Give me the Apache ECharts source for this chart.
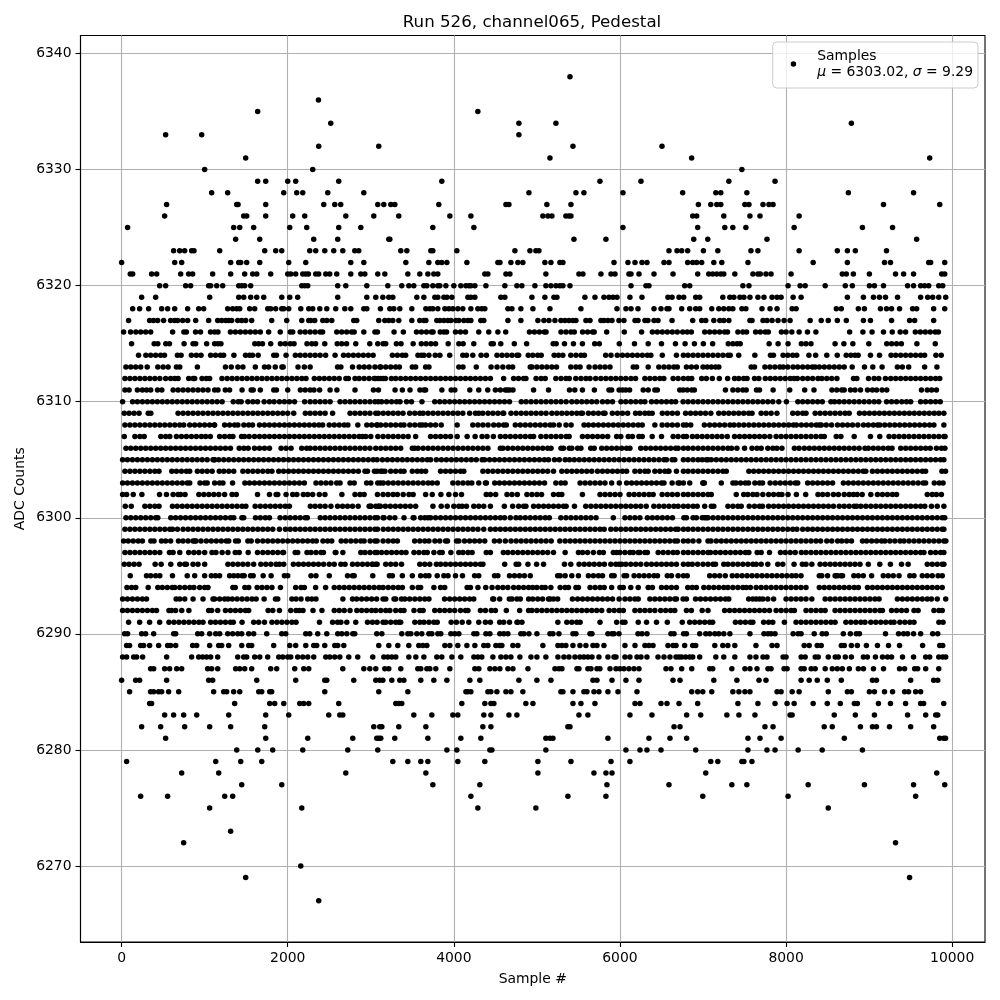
<!DOCTYPE html>
<html>
<head>
<meta charset="utf-8">
<script src="https://cdn.jsdelivr.net/npm/echarts@6/dist/echarts.min.js"></script>
<style>html,body{margin:0;background:#fff}#c{width:1000px;height:1000px}</style>
</head>
<body>
<div id="c"></div>
<script>
const titleText = 'Run 526, channel065, Pedestal';
const xName = 'Sample #';
const yName = 'ADC Counts';
const xTicks = [0, 2000, 4000, 6000, 8000, 10000];
const yTicks = [6270, 6280, 6290, 6300, 6310, 6320, 6330, 6340];
const seriesName = 'Samples';
const muText = '6303.02';
const sigmaText = '9.29';

const y6338 = [5398];
const y6336 = [2370];
const y6335 = [1638, 4289];
const y6334 = [2518, 4783, 5229, 8786];
const y6333 = [530, 964, 4783];
const y6332 = [2373, 3096, 5434, 6506];
const y6331 = [1494, 5157, 6863, 9729];
const y6330 = [1000, 2301, 7468];
const y6329 = [1638, 1735, 2000, 2096, 2614, 3855, 5759, 6253, 7311, 7867];
const y6328 = [1084, 1277, 1952, 2108, 2181, 2482, 2916, 4904, 5470, 5566, 6036, 6755, 7154, 7214, 7528, 8750, 9535];
const y6327 = [542, 1386, 1402, 1735, 2434, 2566, 2638, 3084, 3157, 3241, 3289, 3819, 4627, 4663, 5120, 5410, 6944, 7093, 7166, 7214, 7504, 7553, 7722, 7794, 7843, 9173, 9850];
const y6326 = [518, 1470, 1506, 1735, 2060, 2205, 2699, 3036, 3337, 3952, 4205, 5072, 5133, 5181, 5349, 5386, 5410, 6876, 6924, 7250, 7565, 7686, 8157];
const y6325 = [72, 1349, 1422, 1590, 2024, 2229, 2614, 2880, 3747, 4241, 6036, 6936, 7262, 7359, 7516, 8097, 8919, 9282];
const y6324 = [1373, 1663, 2313, 2602, 3217, 3229, 5446, 5831, 6888, 7057, 7770, 9572];
const y6323 = [626, 699, 759, 843, 871, 1181, 1723, 1855, 1928, 2265, 2337, 2446, 2554, 2663, 2807, 2855, 3361, 3434, 3723, 3747, 4036, 4735, 4916, 4988, 5024, 6590, 6687, 6743, 6815, 7005, 7178, 7577, 7661, 8157, 8617, 8738, 8834, 9209];
const y6322 = [0, 639, 723, 1313, 1410, 1434, 1506, 1663, 2012, 2217, 2759, 2916, 3422, 3699, 3807, 3855, 3916, 4157, 4530, 4555, 4687, 4771, 4831, 5096, 5169, 5277, 5313, 5928, 6096, 6181, 6265, 6325, 6530, 6590, 6815, 6876, 6924, 6984, 7130, 7226, 7541, 8326, 8738, 9185, 9257, 9717, 9740, 9910];
const y6321 = [104, 133, 361, 422, 711, 807, 855, 1096, 1313, 1482, 1578, 1627, 1795, 2000, 2036, 2096, 2181, 2217, 2249, 2337, 2373, 2458, 2506, 2590, 2759, 2880, 2928, 3084, 3169, 3446, 3590, 3687, 3759, 3807, 4373, 4410, 4627, 4675, 5108, 5506, 5554, 5771, 5892, 5940, 6108, 6133, 6229, 6410, 6639, 6936, 7069, 7117, 7166, 7214, 7250, 7383, 7601, 7661, 7690, 7758, 7819, 8060, 8677, 8725, 8810, 9003, 9318, 9415, 9535, 9874, 9910];
const y6320 = [458, 530, 771, 831, 1048, 1072, 1145, 1217, 1410, 1446, 1482, 1554, 2169, 2205, 2241, 2602, 2699, 2952, 3205, 3373, 3458, 3518, 3639, 3675, 3747, 3807, 3831, 3904, 4000, 4084, 4145, 4181, 4205, 4253, 4386, 4614, 4759, 4819, 4976, 5108, 5169, 5229, 5277, 5313, 5398, 6133, 6313, 6349, 6779, 6840, 7480, 7553, 8024, 8169, 8230, 8471, 8713, 8798, 9003, 9064, 9173, 9463, 9535, 9620, 9668, 9717, 9838, 9886];
const y6319 = [241, 410, 1060, 1410, 1470, 1554, 1627, 1711, 1928, 2024, 2120, 2602, 2952, 3060, 3145, 3217, 3265, 3554, 3639, 3771, 3807, 3880, 3916, 3976, 4169, 4205, 4253, 4566, 4614, 4940, 5096, 5205, 5241, 5578, 5699, 5807, 5867, 5916, 5964, 6120, 6265, 6578, 6627, 6711, 6767, 6912, 6960, 7238, 7323, 7371, 7444, 7492, 7565, 7661, 7734, 7831, 7891, 7940, 8085, 8181, 8738, 8931, 9052, 9124, 9197, 9342, 9620, 9705, 9765, 9838, 9922];
const y6318 = [133, 217, 325, 482, 554, 639, 795, 928, 988, 1277, 1337, 1386, 1422, 1542, 1602, 1759, 1795, 1855, 1928, 1952, 2012, 2157, 2253, 2301, 2386, 2470, 2578, 2687, 2759, 2916, 2952, 3116, 3229, 3277, 3349, 3494, 3663, 3711, 3747, 3807, 3892, 3940, 3988, 4048, 4108, 4205, 4289, 4337, 4373, 4651, 4699, 4807, 4952, 5157, 5530, 5964, 6072, 6133, 6217, 6410, 6494, 6566, 6590, 6743, 6840, 6912, 6960, 7105, 7190, 7250, 7311, 7359, 7468, 7516, 7710, 7807, 7891, 8073, 8121, 8605, 8665, 8870, 8943, 9136, 9209, 9270, 9366, 9523, 9572, 9777, 9910];
const y6317 = [84, 337, 385, 434, 506, 590, 639, 675, 735, 795, 892, 1048, 1157, 1205, 1253, 1289, 1325, 1398, 1446, 1494, 1566, 1807, 1988, 2169, 2253, 2277, 2325, 2422, 2470, 2530, 2795, 2831, 3096, 3169, 3217, 3265, 3337, 3494, 3590, 3639, 3663, 3795, 3831, 3880, 3928, 3964, 4024, 4060, 4120, 4169, 4205, 4325, 4361, 4651, 4807, 5012, 5084, 5145, 5217, 5289, 5337, 5386, 5434, 5470, 5590, 5639, 5771, 5807, 5855, 5904, 5988, 6048, 6181, 6217, 6301, 6337, 6410, 6458, 6627, 6876, 6984, 7033, 7130, 7202, 7250, 7311, 7565, 7590, 7722, 7770, 7831, 7903, 7976, 8048, 8290, 8423, 8508, 8617, 8725, 8931, 9016, 9270, 9487, 9548, 9777];

const y6316 = [24, 108, 172, 230, 290, 350, 614, 750, 780, 890, 950, 1070, 1120, 1160, 1310, 1370, 1430, 1490, 1550, 1610, 1670, 1770, 1910, 2030, 2060, 2150, 2210, 2270, 2330, 2390, 2420, 2590, 2650, 2710, 2770, 2800, 2916, 3050, 3080, 3280, 3392, 3550, 3610, 3670, 3730, 3750, 3836, 3880, 3912, 4020, 4080, 4140, 4300, 4420, 4530, 4624, 4910, 4970, 5030, 5090, 5110, 5290, 5350, 5410, 5450, 5550, 5610, 5670, 5690, 5840, 6052, 6260, 6390, 6450, 6510, 6570, 6630, 6690, 6755, 6810, 6860, 7020, 7080, 7140, 7200, 7260, 7295, 7420, 7480, 7524, 7633, 7690, 7750, 7786, 7944, 8000, 8069, 8157, 8258, 8359, 8765, 8925, 9035, 9173, 9278, 9374, 9439, 9556, 9616, 9676, 9736, 9796, 9834];
const y6315 = [120, 392, 436, 532, 576, 752, 860, 892, 1024, 1120, 1160, 1196, 1604, 1650, 1696, 1795, 1912, 1970, 2030, 2076, 2232, 2290, 2336, 2446, 2596, 2650, 2708, 2819, 2988, 3084, 3148, 3180, 3308, 3364, 3510, 3608, 3666, 3724, 3780, 3932, 4060, 4112, 4240, 4450, 4475, 4565, 4728, 4876, 5196, 5232, 5332, 5440, 5548, 5696, 5752, 5992, 6175, 6340, 6500, 6668, 6784, 6896, 7004, 7116, 7304, 7360, 7410, 7448, 7796, 7904, 8024, 8184, 8240, 8300, 8590, 8696, 8804, 8996, 9212, 9270, 9330, 9388, 9575, 9796];
const y6314 = [204, 292, 350, 410, 470, 516, 672, 716, 840, 900, 956, 1072, 1130, 1190, 1228, 1352, 1492, 1540, 1576, 1644, 1832, 1864, 1980, 2092, 2150, 2210, 2270, 2330, 2390, 2456, 2570, 2672, 2730, 2790, 2850, 2910, 2970, 3028, 3260, 3320, 3380, 3420, 3568, 3610, 3640, 3700, 3776, 3832, 3950, 4108, 4152, 4228, 4328, 4392, 4520, 4580, 4640, 4700, 4760, 4780, 4896, 4950, 5010, 5052, 5208, 5260, 5312, 5408, 5470, 5530, 5572, 5828, 5892, 5968, 6030, 6090, 6150, 6210, 6270, 6330, 6372, 6510, 6680, 6764, 6820, 6880, 6940, 7000, 7060, 7120, 7180, 7240, 7300, 7328, 7430, 7624, 7812, 7848, 7964, 8020, 8080, 8128, 8275, 8356, 8490, 8616, 8724, 8780, 8830, 8868, 9016, 9125, 9264, 9320, 9380, 9440, 9500, 9560, 9620, 9668, 9804, 9868];
const y6313 = [52, 110, 170, 230, 308, 436, 500, 560, 660, 700, 912, 1250, 1320, 1400, 1460, 1610, 1720, 1770, 1850, 1930, 1945, 2124, 2200, 2270, 2600, 2640, 2780, 2860, 2920, 2980, 3050, 3110, 3120, 3180, 3240, 3300, 3344, 3500, 3540, 3660, 3700, 4060, 4110, 4270, 4448, 4520, 4590, 4660, 4708, 4920, 4940, 5000, 5060, 5120, 5180, 5236, 5408, 5470, 5520, 5628, 5700, 5760, 5820, 5880, 6160, 6200, 6340, 6468, 6530, 6590, 6650, 6690, 6800, 6860, 6920, 7000, 7050, 7100, 7150, 7190, 7580, 7620, 7745, 7805, 7865, 7925, 7965, 8020, 8084, 8140, 8200, 8260, 8316, 8350, 8400, 8460, 8520, 8580, 8640, 8700, 8796, 8944, 9044, 9156, 9340, 9400, 9476, 9668, 9816];
const y6312 = [40, 100, 160, 220, 280, 340, 400, 460, 530, 590, 640, 680, 808, 860, 880, 968, 1020, 1060, 1208, 1270, 1330, 1390, 1450, 1510, 1570, 1630, 1690, 1750, 1810, 1870, 1930, 1990, 2050, 2110, 2170, 2220, 2320, 2380, 2440, 2500, 2560, 2620, 2700, 2730, 2810, 2860, 2920, 2980, 3040, 3090, 3150, 3060, 3120, 3176, 3248, 3300, 3360, 3420, 3480, 3540, 3600, 3660, 3720, 3780, 3840, 3900, 3960, 4020, 4080, 4140, 4200, 4260, 4320, 4380, 4440, 4600, 4720, 4778, 4840, 4868, 4990, 5050, 5100, 5228, 5290, 5350, 5390, 5468, 5530, 5590, 5640, 5708, 5770, 5830, 5890, 5950, 6010, 6070, 6132, 6188, 6300, 6360, 6420, 6480, 6528, 6640, 6700, 6764, 6820, 6864, 6984, 7040, 7112, 7196, 7296, 7380, 7430, 7490, 7530, 7620, 7672, 7750, 7810, 7870, 7930, 7990, 8050, 8096, 8136, 8200, 8260, 8320, 8384, 8430, 8490, 8550, 8612, 8812, 8852, 8992, 9060, 9116, 9196, 9260, 9320, 9380, 9440, 9500, 9560, 9620, 9680, 9740, 9800, 9850];
const y6311 = [40, 90, 190, 250, 300, 350, 432, 484, 620, 680, 740, 800, 860, 920, 980, 1040, 1120, 1160, 1248, 1300, 1450, 1560, 1584, 1670, 1832, 1864, 2000, 2152, 2210, 2270, 2316, 2384, 2510, 2592, 2810, 3032, 3092, 3292, 3380, 3472, 3592, 3640, 3660, 3856, 3968, 4012, 4192, 4300, 4408, 4500, 4560, 4620, 4644, 4672, 4712, 4960, 5140, 5392, 5456, 5548, 5692, 5868, 5900, 5990, 6030, 6070, 6116, 6280, 6340, 6420, 6450, 6720, 6760, 6810, 6864, 6896, 7270, 7360, 7420, 7480, 7520, 7644, 7680, 7844, 8044, 8224, 8336, 8552, 8610, 8670, 8700, 8776, 8830, 8896, 8980, 9040, 9090, 9156, 9212, 9630, 9700, 9752, 9810];
const y6310 = [12, 132, 190, 250, 310, 370, 430, 490, 550, 610, 670, 730, 790, 850, 910, 970, 1030, 1090, 1150, 1210, 1344, 1404, 1440, 1520, 1580, 1636, 1716, 1780, 1836, 1900, 1960, 2020, 2082, 2204, 2270, 2330, 2390, 2450, 2510, 2630, 2690, 2750, 2810, 2870, 2930, 2990, 3050, 3090, 3130, 3190, 3250, 3310, 3352, 3430, 3490, 3616, 3770, 3830, 3890, 3950, 4010, 4070, 4130, 4190, 4250, 4310, 4370, 4430, 4490, 4550, 4610, 4670, 4812, 4870, 4930, 4990, 5050, 5110, 5170, 5230, 5290, 5352, 5420, 5480, 5540, 5600, 5660, 5720, 5790, 5850, 5910, 6012, 6070, 6130, 6190, 6250, 6300, 6380, 6440, 6500, 6560, 6620, 6670, 6760, 6820, 6880, 6940, 7000, 7060, 7120, 7180, 7240, 7300, 7360, 7420, 7480, 7540, 7600, 7660, 7720, 7780, 7840, 7912, 8004, 8142, 8200, 8260, 8320, 8380, 8436, 8540, 8584, 8640, 8700, 8760, 8820, 8880, 8940, 9000, 9060, 9116, 9210, 9270, 9330, 9392, 9450, 9500, 9620, 9680, 9740, 9800, 9856];
const y6309 = [32, 90, 150, 210, 320, 352, 680, 740, 800, 860, 920, 980, 1040, 1100, 1160, 1220, 1280, 1340, 1400, 1460, 1520, 1580, 1640, 1700, 1760, 1820, 1880, 1940, 2000, 2072, 2212, 2270, 2330, 2390, 2450, 2540, 2750, 2810, 2870, 2930, 2990, 3060, 3090, 3150, 3210, 3270, 3330, 3388, 3468, 3530, 3590, 3630, 3690, 3750, 3810, 3870, 3930, 3990, 4048, 4108, 4190, 4260, 4300, 4348, 4412, 4470, 4530, 4590, 4600, 4688, 4750, 4810, 4870, 4930, 4990, 5050, 5110, 5180, 5240, 5300, 5360, 5420, 5480, 5532, 5548, 5620, 5680, 5740, 5800, 5820, 5908, 5970, 6030, 6092, 6188, 6240, 6300, 6348, 6388, 6510, 6570, 6630, 6692, 6790, 6850, 6910, 6970, 7030, 7094, 7190, 7250, 7310, 7370, 7430, 7490, 7550, 7590, 7700, 7760, 7820, 7890, 8080, 8140, 8200, 8240, 8350, 8410, 8470, 8530, 8590, 8650, 8710, 8760, 8884, 8944, 9004, 9064, 9124, 9184, 9244, 9304, 9364, 9424, 9484, 9544, 9604, 9664, 9724, 9784, 9840, 9900];
const y6308 = [40, 100, 160, 220, 280, 340, 400, 460, 520, 580, 640, 700, 748, 820, 880, 940, 1000, 1060, 1120, 1116, 1240, 1300, 1360, 1400, 1472, 1530, 1576, 1660, 1720, 1780, 1840, 1900, 1960, 2020, 2080, 2140, 2200, 2260, 2320, 2376, 2420, 2500, 2560, 2620, 2680, 2724, 2844, 2952, 3010, 3070, 3080, 3120, 3180, 3240, 3300, 3360, 3400, 3470, 3530, 3590, 3620, 3660, 3720, 3780, 3848, 4040, 4228, 4290, 4350, 4412, 4480, 4540, 4600, 4632, 4740, 4800, 4860, 4920, 4980, 5040, 5100, 5160, 5200, 5268, 5350, 5412, 5568, 5620, 5680, 5740, 5800, 5860, 5920, 5980, 6040, 6100, 6160, 6220, 6268, 6420, 6508, 6570, 6630, 6692, 6764, 6800, 6852, 7016, 7080, 7140, 7200, 7260, 7324, 7372, 7432, 7492, 7552, 7612, 7672, 7732, 7792, 7852, 7912, 7972, 8032, 8088, 8124, 8184, 8244, 8304, 8364, 8400, 8424, 8484, 8548, 8620, 8680, 8740, 8800, 8864, 8932, 8990, 9050, 9100, 9128, 9188, 9248, 9308, 9368, 9428, 9488, 9548, 9608, 9668, 9728, 9780, 9900];
const y6307 = [32, 160, 220, 272, 472, 530, 580, 660, 720, 780, 840, 900, 960, 1012, 1068, 1180, 1240, 1300, 1340, 1444, 1480, 1536, 1600, 1660, 1720, 1780, 1840, 1900, 1960, 2020, 2080, 2140, 2200, 2260, 2320, 2380, 2440, 2500, 2560, 2620, 2680, 2740, 2800, 2860, 2900, 2940, 3000, 3085, 3148, 3210, 3270, 3330, 3390, 3450, 3540, 3720, 3780, 3840, 3900, 3960, 4040, 4160, 4256, 4340, 4400, 4476, 4560, 4620, 4680, 4740, 4800, 4860, 4920, 4960, 5048, 5110, 5170, 5230, 5290, 5352, 5388, 5548, 5610, 5670, 5730, 5790, 5852, 5960, 6010, 6100, 6150, 6228, 6268, 6388, 6500, 6640, 6700, 6764, 6800, 6872, 6930, 6990, 7050, 7110, 7170, 7228, 7292, 7380, 7440, 7500, 7560, 7620, 7680, 7740, 7804, 7880, 7940, 8000, 8060, 8120, 8180, 8240, 8300, 8360, 8420, 8460, 8604, 8660, 8820, 9016, 9128, 9240, 9300, 9360, 9420, 9480, 9540, 9600, 9660, 9720, 9780, 9840, 9900, 9914];
const y6306 = [52, 110, 170, 230, 290, 350, 410, 470, 530, 590, 650, 710, 770, 830, 890, 950, 1010, 1070, 1130, 1190, 1250, 1310, 1416, 1472, 1524, 1600, 1660, 1720, 1780, 1920, 1980, 2040, 2168, 2228, 2270, 2330, 2390, 2450, 2510, 2570, 2630, 2690, 2750, 2810, 2870, 2930, 2990, 3060, 3120, 3180, 3240, 3300, 3360, 3500, 3530, 3570, 3630, 3690, 3750, 3810, 3870, 3930, 3990, 4050, 4110, 4170, 4230, 4290, 4350, 4410, 4560, 4590, 4650, 4710, 4770, 4830, 4890, 4950, 5010, 5070, 5130, 5170, 5290, 5320, 5390, 5420, 5490, 5530, 5648, 5690, 5780, 5840, 5900, 5960, 6020, 6080, 6120, 6250, 6310, 6370, 6430, 6490, 6550, 6610, 6670, 6700, 6764, 6820, 6880, 6940, 7000, 7060, 7120, 7180, 7240, 7300, 7344, 7408, 7500, 7590, 7650, 7700, 7780, 7840, 7890, 7950, 8100, 8156, 8220, 8280, 8340, 8400, 8460, 8520, 8580, 8640, 8700, 8760, 8820, 8880, 8950, 8990, 9050, 9110, 9170, 9230, 9276, 9380, 9440, 9500, 9560, 9620, 9680, 9736, 9810, 9870, 9912];
const y6305 = [12, 70, 130, 190, 250, 310, 370, 430, 490, 550, 610, 670, 730, 790, 850, 910, 970, 1030, 1100, 1120, 1116, 1170, 1230, 1290, 1350, 1410, 1470, 1530, 1590, 1650, 1710, 1770, 1830, 1890, 1950, 2010, 2070, 2130, 2190, 2250, 2310, 2370, 2430, 2490, 2550, 2610, 2670, 2730, 2790, 2850, 2910, 2970, 3030, 3076, 3140, 3200, 3260, 3320, 3380, 3440, 3500, 3560, 3620, 3680, 3720, 3790, 3850, 3910, 3970, 4030, 4090, 4150, 4210, 4270, 4340, 4370, 4430, 4490, 4550, 4610, 4670, 4730, 4790, 4850, 4910, 4970, 5030, 5090, 5140, 5212, 5270, 5340, 5392, 5450, 5510, 5570, 5630, 5690, 5750, 5810, 5870, 5930, 5990, 6050, 6110, 6170, 6230, 6290, 6350, 6410, 6470, 6530, 6560, 6628, 6660, 6764, 6820, 6880, 6940, 6990, 7040, 7060, 7100, 7160, 7220, 7280, 7340, 7400, 7460, 7520, 7580, 7640, 7700, 7760, 7820, 7880, 7940, 8000, 8060, 8120, 8180, 8240, 8300, 8360, 8420, 8480, 8540, 8600, 8660, 8720, 8780, 8840, 8900, 8960, 9020, 9080, 9140, 9200, 9260, 9320, 9380, 9440, 9500, 9560, 9620, 9680, 9740, 9800, 9860, 9900];
const y6304 = [40, 100, 160, 220, 280, 340, 400, 450, 604, 660, 720, 780, 820, 912, 970, 1030, 1090, 1176, 1230, 1290, 1350, 1460, 1520, 1580, 1640, 1700, 1760, 1810, 1892, 1950, 2010, 2070, 2130, 2190, 2250, 2310, 2370, 2430, 2490, 2550, 2610, 2670, 2730, 2790, 2850, 2930, 2960, 3044, 3076, 3140, 3170, 3120, 3240, 3300, 3360, 3400, 3500, 3560, 3610, 3660, 3840, 3900, 3960, 4020, 4080, 4120, 4350, 4410, 4470, 4530, 4590, 4650, 4710, 4770, 4830, 4890, 4950, 5010, 5070, 5130, 5200, 5300, 5360, 5420, 5480, 5540, 5600, 5660, 5730, 5790, 5850, 5910, 5970, 6030, 6080, 6180, 6240, 6300, 6340, 6420, 6480, 6540, 6590, 6580, 6680, 6764, 6820, 6880, 6940, 7000, 7060, 7120, 7180, 7240, 7280, 7552, 7610, 7670, 7730, 7790, 7850, 7910, 7970, 8030, 8090, 8150, 8210, 8270, 8330, 8390, 8450, 8510, 8570, 8630, 8690, 8750, 8810, 8870, 8930, 8960, 9040, 9100, 9160, 9220, 9280, 9340, 9400, 9460, 9520, 9580, 9640, 9680, 9876, 9920];
const y6303 = [12, 70, 130, 190, 250, 310, 370, 430, 490, 550, 610, 670, 730, 790, 820, 944, 1000, 1030, 1120, 1180, 1220, 1336, 1484, 1540, 1600, 1660, 1720, 1780, 1840, 1900, 1960, 2020, 2080, 2140, 2200, 2340, 2400, 2460, 2520, 2590, 2630, 2750, 2800, 2950, 3000, 3084, 3116, 3150, 3210, 3270, 3330, 3390, 3450, 3510, 3570, 3630, 3690, 3740, 3800, 3988, 4050, 4110, 4170, 4216, 4300, 4380, 4392, 4492, 4550, 4610, 4670, 4730, 4790, 4850, 4910, 4970, 5030, 5092, 5228, 5290, 5340, 5520, 5580, 5640, 5700, 5760, 5820, 5900, 5992, 6080, 6140, 6200, 6260, 6320, 6380, 6440, 6500, 6530, 6628, 6700, 6764, 6720, 6840, 7000, 7000, 7016, 7220, 7360, 7396, 7452, 7510, 7548, 7624, 7680, 7716, 7808, 7870, 7930, 7990, 8050, 8110, 8140, 8260, 8320, 8380, 8440, 8500, 8560, 8690, 8750, 8810, 8870, 8930, 8990, 9050, 9110, 9170, 9230, 9290, 9350, 9410, 9470, 9530, 9590, 9650, 9680, 9784, 9844, 9890];
const y6302 = [12, 60, 140, 244, 456, 540, 620, 680, 710, 764, 930, 990, 1050, 1110, 1170, 1240, 1330, 1380, 1636, 1780, 1860, 1880, 1980, 2060, 2110, 2188, 2240, 2300, 2380, 2448, 2652, 2810, 2870, 2920, 3080, 3148, 3208, 3268, 3320, 3390, 3460, 3510, 3660, 3740, 3844, 3940, 4020, 4092, 4390, 4440, 4504, 4640, 4700, 4764, 4880, 4940, 5000, 5056, 5200, 5260, 5300, 5548, 5760, 5820, 5880, 5940, 6000, 6110, 6170, 6230, 6290, 6350, 6400, 6508, 6570, 6630, 6692, 6764, 6820, 6880, 6940, 7000, 7060, 7100, 7400, 7490, 7540, 7600, 7650, 7720, 7790, 7850, 7910, 7950, 8024, 8124, 8236, 8384, 8440, 8500, 8570, 8630, 8700, 8760, 8810, 8856, 8916, 9020, 9100, 9160, 9220, 9280, 9330, 9700, 9760, 9810, 9870];
const y6301 = [44, 116, 280, 340, 400, 450, 612, 670, 730, 790, 850, 910, 970, 1030, 1090, 1150, 1210, 1270, 1330, 1390, 1450, 1496, 1608, 1670, 1730, 1790, 1850, 1910, 1970, 2020, 2272, 2330, 2390, 2450, 2520, 2600, 2660, 2720, 2780, 2848, 2980, 3000, 3060, 3090, 3000, 3100, 3116, 3176, 3236, 3296, 3356, 3416, 3476, 3540, 3748, 3848, 3920, 4000, 4060, 4100, 4152, 4240, 4300, 4360, 4440, 4608, 4708, 4780, 4840, 4868, 4960, 5020, 5080, 5140, 5200, 5260, 5320, 5352, 5452, 5588, 5650, 5710, 5770, 5830, 5890, 5950, 6010, 6070, 6130, 6190, 6250, 6316, 6408, 6470, 6530, 6590, 6650, 6700, 6764, 6820, 6880, 6930, 7020, 7100, 7130, 7300, 7360, 7420, 7460, 7556, 7620, 7680, 7716, 7790, 7850, 7910, 7970, 8030, 8090, 8150, 8210, 8270, 8330, 8390, 8450, 8510, 8570, 8640, 8700, 8760, 8820, 8850, 8900, 8960, 9020, 9080, 9140, 9200, 9260, 9320, 9380, 9440, 9500, 9560, 9620, 9670, 9750, 9820, 9900];
const y6300 = [52, 110, 170, 230, 290, 350, 410, 436, 592, 650, 710, 770, 830, 890, 950, 1010, 1070, 1130, 1190, 1250, 1310, 1350, 1448, 1470, 1612, 1670, 1730, 1780, 1908, 1970, 2030, 2090, 2150, 2210, 2236, 2392, 2450, 2510, 2570, 2630, 2690, 2750, 2810, 2870, 2930, 2990, 3050, 3080, 3148, 3160, 3228, 3290, 3400, 3510, 3520, 3600, 3688, 3650, 3720, 3780, 3840, 3900, 3960, 4020, 4080, 4140, 4200, 4260, 4320, 4380, 4440, 4500, 4560, 4610, 4680, 4748, 4800, 4860, 4920, 4980, 5040, 5100, 5150, 5288, 5350, 5410, 5470, 5530, 5590, 5650, 5712, 5920, 6060, 6120, 6180, 6240, 6330, 6390, 6450, 6510, 6570, 6632, 6770, 6800, 6880, 6920, 6990, 7040, 7020, 7060, 7120, 7180, 7240, 7300, 7360, 7420, 7480, 7540, 7600, 7660, 7720, 7780, 7840, 7900, 7960, 8020, 8080, 8140, 8200, 8260, 8320, 8380, 8440, 8500, 8560, 8620, 8680, 8740, 8800, 8860, 8920, 8980, 9040, 9100, 9160, 9220, 9280, 9340, 9400, 9460, 9520, 9580, 9640, 9700, 9760, 9820, 9880, 9910];
const y6299 = [40, 100, 160, 220, 280, 340, 400, 460, 520, 580, 612, 672, 740, 800, 860, 920, 980, 1040, 1100, 1160, 1220, 1280, 1340, 1400, 1460, 1520, 1580, 1640, 1700, 1760, 1820, 1900, 1972, 2030, 2090, 2150, 2210, 2270, 2330, 2390, 2450, 2510, 2570, 2630, 2690, 2750, 2810, 2870, 2930, 2990, 3050, 3080, 3150, 3210, 3270, 3330, 3390, 3450, 3510, 3570, 3630, 3690, 3750, 3810, 3870, 3930, 3990, 4050, 4110, 4170, 4230, 4290, 4360, 4440, 4500, 4560, 4620, 4680, 4740, 4800, 4860, 4920, 4980, 5040, 5100, 5160, 5220, 5280, 5340, 5400, 5460, 5520, 5580, 5640, 5700, 5760, 5810, 5890, 5950, 6010, 6070, 6130, 6190, 6250, 6310, 6370, 6430, 6490, 6550, 6610, 6670, 6700, 6764, 6820, 6880, 6940, 7000, 7060, 7120, 7180, 7240, 7300, 7360, 7420, 7480, 7540, 7600, 7660, 7720, 7780, 7840, 7900, 7960, 8020, 8080, 8130, 8200, 8260, 8320, 8380, 8440, 8500, 8560, 8620, 8680, 8740, 8800, 8860, 8920, 8980, 9040, 9100, 9160, 9220, 9280, 9340, 9400, 9460, 9520, 9580, 9640, 9700, 9760, 9820, 9880, 9900];
const y6298 = [24, 80, 140, 200, 250, 352, 390, 480, 530, 590, 684, 740, 800, 860, 896, 880, 956, 1020, 1080, 1140, 1200, 1260, 1290, 1372, 1405, 1520, 1560, 1636, 1700, 1760, 1820, 1880, 1940, 2000, 2060, 2120, 2180, 2240, 2300, 2344, 2424, 2480, 2530, 2644, 2700, 2760, 2820, 2880, 2920, 2992, 3050, 3076, 3148, 3210, 3270, 3320, 3528, 3590, 3650, 3700, 3772, 3830, 3900, 3924, 4032, 4060, 4128, 4190, 4250, 4310, 4372, 4488, 4550, 4620, 4688, 4750, 4810, 4870, 4930, 4990, 5050, 5110, 5172, 5276, 5340, 5400, 5460, 5520, 5580, 5640, 5700, 5760, 5820, 5880, 5940, 6000, 6060, 6120, 6180, 6240, 6300, 6360, 6420, 6480, 6540, 6600, 6660, 6692, 6764, 6820, 6880, 6950, 7060, 7096, 7160, 7220, 7280, 7340, 7400, 7460, 7520, 7580, 7640, 7700, 7760, 7820, 7880, 7940, 8000, 8060, 8120, 8180, 8240, 8300, 8360, 8416, 8490, 8550, 8620, 8670, 8730, 8788, 8920, 8970, 9030, 9090, 9150, 9190, 9250, 9310, 9372, 9420, 9480, 9540, 9600, 9660, 9720, 9780, 9840, 9900, 9924];
const y6297 = [40, 100, 160, 220, 280, 340, 400, 460, 576, 620, 700, 808, 870, 930, 1000, 1088, 1136, 1210, 1280, 1368, 1416, 1524, 1636, 1700, 1760, 1820, 1880, 1940, 1950, 2090, 2120, 2232, 2280, 2340, 2400, 2430, 2572, 2580, 2664, 2880, 2930, 2990, 3050, 3076, 3130, 3190, 3250, 3310, 3370, 3424, 3520, 3580, 3640, 3680, 3760, 3830, 3860, 3964, 4060, 4110, 4170, 4220, 4390, 4440, 4596, 4650, 4710, 4770, 4830, 4890, 4950, 5010, 5070, 5130, 5200, 5340, 5500, 5550, 5610, 5680, 5752, 5800, 5920, 5960, 6000, 6060, 6120, 6160, 6220, 6240, 6300, 6330, 6460, 6520, 6580, 6640, 6690, 6764, 6820, 6880, 6940, 7000, 7060, 7090, 7150, 7210, 7270, 7330, 7390, 7450, 7510, 7552, 7652, 7700, 7800, 7932, 7990, 8050, 8110, 8184, 8240, 8300, 8360, 8420, 8480, 8540, 8600, 8660, 8720, 8780, 8840, 8900, 8960, 9020, 9080, 9140, 9200, 9260, 9320, 9380, 9440, 9500, 9560, 9620, 9660, 9740, 9800, 9860, 9900];
const y6296 = [32, 90, 150, 210, 404, 476, 592, 700, 760, 780, 860, 920, 1000, 1280, 1340, 1400, 1460, 1520, 1590, 1676, 1736, 1796, 1860, 1900, 1952, 2068, 2130, 2190, 2250, 2310, 2370, 2432, 2500, 2560, 2640, 2690, 2780, 2840, 2900, 2960, 3020, 3020, 3060, 3076, 3180, 3240, 3300, 3370, 3590, 3650, 3710, 3790, 3840, 3900, 3960, 4020, 4080, 4140, 4200, 4260, 4320, 4350, 4612, 4750, 4780, 4892, 4996, 5080, 5332, 5408, 5508, 5570, 5630, 5690, 5752, 5812, 5890, 5950, 5990, 6020, 6070, 6130, 6190, 6250, 6320, 6380, 6440, 6500, 6560, 6620, 6680, 6764, 6820, 6870, 6935, 7000, 7060, 7120, 7150, 7250, 7300, 7360, 7420, 7480, 7540, 7600, 7640, 7700, 7780, 7900, 7960, 8096, 8196, 8240, 8310, 8410, 8470, 8530, 8590, 8650, 8710, 8770, 8830, 8890, 8990, 9128, 9256, 9390, 9470, 9700, 9760, 9820, 9880, 9900];
const y6295 = [104, 300, 350, 410, 460, 612, 790, 880, 1000, 1080, 1130, 1180, 1300, 1350, 1400, 1450, 1476, 1552, 1584, 1704, 1800, 1960, 2000, 2280, 2340, 2500, 2720, 2780, 2800, 3024, 3224, 3260, 3380, 3500, 3600, 3660, 3700, 3800, 3880, 3930, 4020, 4104, 4250, 4300, 4490, 4530, 4670, 4730, 4790, 4850, 4920, 5250, 5280, 5340, 5420, 5500, 5620, 5680, 5740, 5790, 5900, 5930, 6050, 6080, 6170, 6230, 6290, 6350, 6410, 6452, 6570, 6620, 6700, 6764, 6810, 7080, 7140, 7200, 7268, 7352, 7410, 7470, 7530, 7590, 7650, 7710, 7770, 7830, 7890, 7950, 8010, 8070, 8120, 8180, 8400, 8430, 8500, 8590, 8620, 8660, 8600, 8680, 8816, 8870, 8930, 9030, 9170, 9230, 9290, 9360, 9490, 9540, 9640, 9700, 9760, 9830, 9880];
const y6294 = [64, 120, 170, 320, 436, 490, 550, 610, 640, 700, 760, 820, 870, 940, 1000, 1040, 1340, 1368, 1484, 1530, 1632, 1690, 1750, 1810, 1912, 2096, 2160, 2200, 2336, 2456, 2560, 2620, 2680, 2740, 2800, 2860, 2920, 2980, 3040, 3100, 3148, 3210, 3270, 3330, 3380, 3500, 3570, 3600, 3760, 3840, 3890, 4160, 4200, 4290, 4384, 4460, 4530, 4590, 4650, 4720, 4780, 4840, 4900, 4950, 5000, 5060, 5100, 5168, 5280, 5340, 5380, 5470, 5500, 5640, 5700, 5760, 5810, 5900, 6000, 6040, 6130, 6220, 6340, 6390, 6500, 6560, 6620, 6680, 6816, 6870, 6920, 7010, 7070, 7130, 7190, 7250, 7300, 7360, 7420, 7480, 7520, 7570, 7640, 7700, 7760, 7820, 7880, 7940, 8000, 8060, 8120, 8180, 8240, 8400, 8460, 8520, 8580, 8640, 8700, 8760, 8820, 8870, 8980, 9040, 9100, 9160, 9220, 9280, 9340, 9400, 9460, 9520, 9580, 9640, 9700, 9760, 9820, 9880];
const y6293 = [12, 70, 130, 190, 250, 300, 656, 700, 760, 860, 980, 1100, 1120, 1180, 1240, 1280, 1332, 1390, 1450, 1510, 1570, 1620, 1716, 1852, 1880, 2050, 2100, 2160, 2240, 2290, 2340, 2664, 2780, 2830, 2890, 2950, 3010, 3070, 3148, 3180, 3280, 3300, 3370, 3410, 3468, 3530, 3590, 3650, 3700, 3888, 3950, 4010, 4070, 4130, 4190, 4240, 4468, 4480, 4552, 4668, 4700, 4760, 4800, 4900, 4950, 5010, 5068, 5140, 5160, 5200, 5250, 5428, 5490, 5550, 5610, 5670, 5730, 5790, 5850, 5910, 5990, 6060, 6120, 6180, 6220, 6360, 6420, 6480, 6540, 6600, 6660, 6680, 6760, 6800, 6910, 6970, 7030, 7090, 7150, 7210, 7270, 7310, 7550, 7600, 7640, 7680, 7720, 7780, 7850, 8000, 8060, 8120, 8180, 8240, 8310, 8470, 8530, 8590, 8650, 8710, 8770, 8830, 8890, 8950, 9010, 9070, 9120, 9340, 9400, 9460, 9520, 9580, 9640, 9700, 9750, 9820, 9922];
const y6292 = [12, 70, 130, 190, 250, 310, 370, 420, 570, 600, 650, 724, 810, 1048, 1084, 1157, 1250, 1310, 1370, 1430, 1490, 1530, 1764, 1820, 1900, 2036, 2100, 2140, 2184, 2304, 2412, 2560, 2620, 2680, 2750, 2832, 2890, 2950, 3010, 3060, 3120, 3180, 3230, 3300, 3360, 3400, 3520, 3590, 3630, 3770, 3830, 3890, 3950, 4010, 4080, 4140, 4170, 4320, 4380, 4450, 4500, 4632, 4792, 4900, 4940, 5000, 5060, 5120, 5180, 5240, 5300, 5360, 5420, 5480, 5540, 5600, 5660, 5720, 5780, 5870, 5930, 5990, 6040, 6180, 6240, 6300, 6360, 6420, 6490, 6550, 6610, 6660, 6800, 6860, 6990, 7060, 7260, 7320, 7380, 7440, 7500, 7560, 7620, 7680, 7740, 7800, 7880, 7940, 8000, 8060, 8100, 8240, 8300, 8360, 8420, 8470, 8590, 8650, 8710, 8770, 8830, 8890, 8950, 9010, 9070, 9130, 9160, 9270, 9330, 9390, 9450, 9540, 9590, 9780, 9840, 9880];
const y6291 = [84, 217, 337, 458, 570, 630, 690, 750, 810, 870, 930, 980, 1072, 1130, 1190, 1250, 1310, 1345, 1450, 1590, 1650, 1720, 1810, 1870, 1930, 1990, 2050, 2100, 2382, 2540, 2600, 2640, 2711, 2819, 2960, 3020, 3076, 3148, 3180, 3240, 3300, 3360, 3340, 3530, 3590, 3640, 3700, 3760, 3800, 3968, 4030, 4100, 4180, 4300, 4380, 4440, 4552, 4600, 4670, 4760, 4770, 4820, 5252, 5360, 5420, 5480, 5520, 5760, 5960, 6030, 6060, 6220, 6320, 6440, 6570, 6750, 6840, 6900, 6960, 7020, 7080, 7116, 7390, 7450, 7510, 7570, 7600, 7730, 7790, 7840, 7980, 8120, 8180, 8240, 8300, 8360, 8420, 8480, 8540, 8590, 8720, 8780, 8840, 8900, 8950, 9020, 9080, 9140, 9200, 9260, 9300, 9370, 9430, 9490, 9540, 9840, 9890];

const y6290 = [36, 72, 241, 289, 386, 627, 651, 916, 964, 1060, 1133, 1181, 1277, 1337, 1398, 1446, 1530, 1590, 1747, 1928, 1976, 2217, 2265, 2361, 2470, 2602, 2651, 2711, 2783, 2807, 3072, 3133, 3373, 3446, 3482, 3554, 3614, 3699, 3735, 3807, 3843, 3964, 4012, 4060, 4241, 4277, 4386, 4434, 4554, 4602, 4651, 4807, 4843, 4904, 5000, 5157, 5193, 5265, 5434, 5470, 5639, 5663, 5855, 5904, 5928, 5988, 6217, 6265, 6325, 6614, 6651, 6767, 6800, 6960, 7033, 7081, 7142, 7190, 7250, 7323, 7565, 7734, 7782, 7819, 7867, 8085, 8145, 8181, 8339, 8435, 8484, 8689, 8774, 8846, 8883, 9197, 9354, 9415, 9463, 9535, 9620, 9765, 9826];
const y6289 = [60, 96, 229, 265, 337, 446, 554, 590, 651, 855, 904, 1060, 1169, 1205, 1289, 1446, 1530, 1566, 1831, 2024, 2096, 2217, 2313, 2349, 2446, 2566, 2602, 2675, 3096, 3217, 3325, 3458, 3578, 3627, 3675, 3892, 3952, 4048, 4157, 4253, 4361, 4410, 4506, 4554, 4578, 4711, 4771, 5072, 5253, 5301, 5349, 5434, 5518, 5590, 5675, 5723, 5807, 6060, 6181, 6301, 6349, 6398, 6578, 6639, 6675, 6779, 6876, 6912, 7142, 7238, 7299, 7383, 7637, 7831, 7891, 8218, 8278, 8375, 8423, 8665, 8701, 8786, 8858, 8967, 9100, 9233, 9366, 9644, 9850, 9886];
const y6288 = [12, 60, 145, 181, 253, 542, 843, 928, 976, 1024, 1072, 1157, 1398, 1470, 1506, 1602, 1663, 1759, 1892, 1940, 2000, 2036, 2120, 2181, 2241, 2313, 2458, 2506, 2566, 2627, 2735, 2843, 3024, 3157, 3205, 3253, 3301, 3458, 3542, 3639, 3795, 3855, 3976, 4084, 4241, 4289, 4337, 4470, 4566, 4627, 4687, 4795, 4928, 5000, 5108, 5253, 5325, 5386, 5458, 5518, 5566, 5614, 5663, 5747, 5855, 5928, 5952, 6060, 6120, 6205, 6253, 6325, 6458, 6530, 6602, 6675, 6711, 6743, 6791, 6840, 6876, 6960, 7154, 7250, 7383, 7565, 7637, 7722, 7770, 7964, 8000, 8181, 8230, 8351, 8387, 8508, 8592, 8629, 8713, 8786, 8931, 8979, 9076, 9161, 9221, 9270, 9402, 9535, 9681, 9729, 9838, 9886, 9922];
const y6287 = [349, 386, 518, 578, 663, 723, 1036, 1084, 1157, 1373, 1422, 1482, 1566, 1795, 1867, 2084, 2193, 2253, 2663, 2916, 2988, 3060, 3169, 3217, 3361, 3566, 3602, 3675, 3711, 3783, 3952, 4253, 4301, 4434, 4494, 4554, 4651, 4711, 4892, 5217, 5265, 5301, 5482, 5506, 5614, 5651, 5723, 5759, 5880, 5952, 6000, 6048, 6108, 6169, 6229, 6554, 6614, 6743, 6864, 7081, 7117, 7347, 7504, 7565, 7650, 7782, 7819, 7976, 8012, 8181, 8218, 8302, 8351, 8471, 8556, 8617, 8677, 8762, 8870, 8931, 9052, 9173, 9366, 9427, 9548, 9584, 9681, 9838];
const y6286 = [0, 169, 217, 542, 1048, 1096, 1627, 2096, 2446, 2470, 2795, 3060, 3108, 3145, 3253, 3349, 3398, 3602, 3759, 3916, 4193, 4313, 4783, 5000, 5169, 5675, 5723, 5904, 6072, 6229, 6639, 6723, 7130, 7408, 7674, 7758, 8181, 8278, 8375, 8496, 8665, 9040, 9088, 9500, 9777, 9826];
const y6285 = [96, 349, 386, 446, 482, 566, 687, 1108, 1229, 1265, 1349, 1422, 1651, 1687, 1783, 1807, 2446, 3096, 3446, 4145, 4169, 4205, 4410, 4446, 4518, 4627, 4687, 4831, 5289, 5313, 5434, 5566, 5602, 5687, 5747, 5855, 5976, 6205, 6864, 6936, 6997, 7105, 7359, 7432, 7504, 7565, 7891, 7940, 8073, 8157, 8508, 8738, 8786, 9003, 9064, 9185, 9282, 9427, 9475, 9560, 9620];
const y6284 = [337, 361, 1361, 1783, 1843, 1952, 2145, 2193, 2253, 2614, 3301, 3337, 3373, 4096, 4373, 4446, 4482, 4867, 4952, 5434, 5530, 5699, 6181, 6241, 6494, 6566, 6711, 6936, 7420, 7661, 7867, 8012, 8097, 8326, 8496, 8653, 8822, 8858, 9112, 9257, 9439, 9620, 9656, 9898];
const y6283 = [518, 626, 747, 904, 1289, 1735, 2012, 2494, 2627, 2663, 3518, 3735, 3988, 4048, 4361, 4446, 4663, 4759, 5506, 5614, 6120, 6385, 6803, 6972, 7287, 7432, 7625, 8048, 8073, 8580, 8834, 9064, 9463, 9681, 9802, 9826];
const y6282 = [241, 470, 759, 1060, 1313, 1723, 3036, 3108, 3133, 3337, 3663, 4349, 4446, 5373, 5398, 6651, 6723, 7746, 7843, 8459, 8556, 8895, 9040, 9088, 9245, 9500, 9777];
const y6281 = [530, 1735, 2241, 2783, 3072, 3096, 3120, 3289, 3687, 4084, 4325, 5108, 5157, 5193, 5855, 6349, 6602, 6803, 7541, 7686, 7940, 8701, 9850, 9898, 9920];
const y6280 = [1386, 1639, 1819, 2181, 2723, 3084, 3916, 4036, 4434, 4458, 5108, 6072, 6241, 6325, 6494, 6912, 7541, 7770, 7867, 8145, 8435, 8919];
const y6279 = [60, 1133, 1434, 1687, 3265, 3446, 3602, 3687, 4048, 4373, 5012, 5410, 5892, 6120, 7093, 7178, 7468, 7492, 7589];
const y6278 = [723, 1169, 2699, 3663, 5012, 5687, 5831, 5904, 7033, 9814];
const y6277 = [1446, 1928, 3747, 4313, 5843, 6590, 7347, 7528, 8266, 8943, 9535, 9910];
const y6276 = [229, 554, 1241, 1337, 4205, 5373, 5831, 6997, 8024, 9560];
const y6275 = [1060, 2169, 4289, 4988, 8508];
const y6273 = [1313];
const y6272 = [747, 9318];
const y6270 = [2157];
const y6269 = [1494, 9487];
const y6267 = [2373];

const rows = [
  [6338,y6338],[6336,y6336],[6335,y6335],[6334,y6334],[6333,y6333],[6332,y6332],[6331,y6331],[6330,y6330],
  [6329,y6329],[6328,y6328],[6327,y6327],[6326,y6326],[6325,y6325],[6324,y6324],[6323,y6323],[6322,y6322],
  [6321,y6321],[6320,y6320],[6319,y6319],[6318,y6318],[6317,y6317],[6316,y6316],[6315,y6315],[6314,y6314],
  [6313,y6313],[6312,y6312],[6311,y6311],[6310,y6310],[6309,y6309],[6308,y6308],[6307,y6307],[6306,y6306],
  [6305,y6305],[6304,y6304],[6303,y6303],[6302,y6302],[6301,y6301],[6300,y6300],[6299,y6299],[6298,y6298],
  [6297,y6297],[6296,y6296],[6295,y6295],[6294,y6294],[6293,y6293],[6292,y6292],[6291,y6291],[6290,y6290],
  [6289,y6289],[6288,y6288],[6287,y6287],[6286,y6286],[6285,y6285],[6284,y6284],[6283,y6283],[6282,y6282],
  [6281,y6281],[6280,y6280],[6279,y6279],[6278,y6278],[6277,y6277],[6276,y6276],[6275,y6275],[6273,y6273],
  [6272,y6272],[6270,y6270],[6269,y6269],[6267,y6267]
];
const points = [];
rows.forEach(([v, xs]) => xs.forEach(x => points.push([x, v])));

const font = 'DejaVu Sans';
const axisCommon = {
  axisLine: {show: true, onZero: false, lineStyle: {color: '#000', width: 1.1}},
  axisTick: {show: true, length: 5, lineStyle: {color: '#000', width: 1.1}},
  splitLine: {show: true, lineStyle: {color: '#b0b0b0', width: 1.1}},
  nameTextStyle: {color: '#000', fontFamily: font, fontSize: 13.9},
  nameLocation: 'middle'
};
const chart = echarts.init(document.getElementById('c'), null, {renderer: 'canvas'});
chart.setOption({
  animation: false,
  backgroundColor: '#fff',
  title: {
    text: titleText, left: 527, top: 9, textAlign: 'center',
    textStyle: {color: '#000', fontFamily: font, fontSize: 16.67, fontWeight: 'normal'}
  },
  grid: {left: 80.5, right: 15, top: 35.5, bottom: 58, containLabel: false, show: true, borderColor: '#000', borderWidth: 1.1, backgroundColor: 'transparent'},
  xAxis: Object.assign({}, axisCommon, {
    type: 'value', name: xName, nameGap: 30, min: -495, max: 10395,
    axisTick: Object.assign({}, axisCommon.axisTick, {customValues: xTicks}),
    axisLabel: {customValues: xTicks, color: '#000', fontFamily: font, fontSize: 13.9, margin: 9, formatter: v => String(v), hideOverlap: false, showMinLabel: true, showMaxLabel: true}
  }),
  yAxis: Object.assign({}, axisCommon, {
    type: 'value', name: yName, nameGap: 53, nameMoveOverlap: false, min: 6263.45, max: 6341.55,
    axisTick: Object.assign({}, axisCommon.axisTick, {customValues: yTicks}),
    axisLabel: {customValues: yTicks, color: '#000', fontFamily: font, fontSize: 13.9, margin: 9, formatter: v => String(v)}
  }),
  legend: {
    show: true, right: 22, top: 42, orient: 'vertical', icon: 'circle',
    itemWidth: 5.5, itemHeight: 5.5,
    padding: [7, 5, 9, 18],
    backgroundColor: 'rgba(255,255,255,0.8)', borderColor: '#ccc', borderWidth: 1, borderRadius: 4,
    data: [seriesName],
    formatter: n => '{t|' + n + '}\n{i|\u03bc}{t| = ' + muText + ', }{i|\u03c3}{t| = ' + sigmaText + '}',
    textStyle: {
      color: '#000', fontFamily: font, fontSize: 13.9, padding: [0, 0, 0, 16],
      rich: {t: {color: '#000', fontFamily: font, fontSize: 13.9, lineHeight: 16}, i: {color: '#000', fontFamily: font, fontSize: 13.9, fontStyle: 'italic', lineHeight: 16}}
    }
  },
  series: [{
    name: seriesName, type: 'scatter', data: points, symbol: 'circle', symbolSize: 5.5,
    itemStyle: {color: '#000', opacity: 1}, silent: true, progressive: 0, large: false, clip: true, z: 5
  }]
});
</script>
</body>
</html>
